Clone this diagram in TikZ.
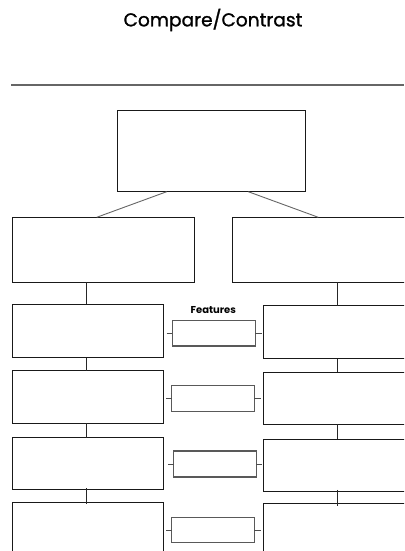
\documentclass[tikz,border=0pt]{standalone}
\usepackage{fontspec}
\setmainfont{Poppins}
\newfontfamily\titlefont[FakeBold=1.2]{Poppins}
\begin{document}
\begin{tikzpicture}[x=1pt,y=-1pt,
  box/.style={draw=black!90,line width=1pt,rectangle,inner sep=0pt,outer sep=0pt,fill=white},
  featbox/.style={draw=black!65,line width=1.2pt,rectangle,inner sep=0pt,outer sep=0pt,fill=white},
  link/.style={draw=black!85,line width=0.9pt},
  diag/.style={draw=black!60,line width=0.9pt},
  stub/.style={draw=black!70,line width=0.9pt}]
\clip (0,0) rectangle (404,551);
\fill[white] (0,0) rectangle (404,551);
% title
\node[inner sep=0pt] (title) at (213,20) {\titlefont\fontsize{18.6}{21}\selectfont Compare/Contrast};
\coordinate (ruleL) at (11,85);
\coordinate (ruleR) at (404,85);
\draw[draw=black!60,line width=1.1pt] (ruleL) -- (ruleR);
% top box
\node[box,minimum width=188.4pt,minimum height=81.4pt] (top) at (211.5,151) {};
% second row
\node[box,minimum width=182pt,minimum height=65pt] (L0) at (103.3,249.8) {};
\node[box,minimum width=190pt,minimum height=65pt] (R0) at (327.3,249.8) {};
\draw[diag] ([xshift=-44.8pt]top.south) -- ([xshift=-114.8pt]top.south |- L0.north);
\draw[diag] ([xshift=36.8pt]top.south) -- ([xshift=106.8pt]top.south |- R0.north);
% left column
\node[box,minimum width=151.4pt,minimum height=53.4pt] (L1) at (88,331) {};
\node[box,minimum width=151.4pt,minimum height=52.6pt] (L2) at (88,397) {};
\node[box,minimum width=151.4pt,minimum height=52.3pt] (L3) at (88,463.8) {};
\node[box,minimum width=151.4pt,minimum height=70pt] (L4) at (88,537.3) {};
% right column
\node[box,minimum width=160pt,minimum height=53pt] (R1) at (343.3,332.2) {};
\node[box,minimum width=160pt,minimum height=52pt] (R2) at (343.3,398.3) {};
\node[box,minimum width=160pt,minimum height=52.3pt] (R3) at (343.3,465.2) {};
\node[box,minimum width=160pt,minimum height=70pt] (R4) at (343.3,538.7) {};
% features boxes
\node[featbox,minimum width=83pt,minimum height=25.7pt] (F1) at (213.8,333.2) {};
\node[featbox,minimum width=82.6pt,minimum height=26pt] (F2) at (213,398.3) {};
\node[featbox,minimum width=82.6pt,minimum height=26pt] (F3) at (215,464) {};
\node[featbox,minimum width=82.6pt,minimum height=25pt] (F4) at (213,530.2) {};
\node[inner sep=0pt] (feat) at (213.3,310.5) {\fontsize{10}{12}\selectfont\bfseries Features};
% vertical connectors
\coordinate (cl) at (86.7,0);
\coordinate (cr) at (337.3,0);
\draw[link] (cl |- L0.south) -- (cl |- L1.north);
\draw[link] (cl |- L1.south) -- (cl |- L2.north);
\draw[link] (cl |- L2.south) -- (cl |- L3.north);
\draw[link] ([yshift=1.5pt]cl |- L3.south) -- ([yshift=-2pt]cl |- L4.north);
\draw[link] (cr |- R0.south) -- (cr |- R1.north);
\draw[link] (cr |- R1.south) -- (cr |- R2.north);
\draw[link] (cr |- R2.south) -- (cr |- R3.north);
\draw[link] ([yshift=1.5pt]cr |- R3.south) -- ([yshift=-2pt]cr |- R4.north);
% stubs
\draw[stub] ([xshift=-5.6pt]F1.west) -- (F1.west);
\draw[stub] (F1.east) -- ([xshift=6.5pt]F1.east);
\draw[stub] ([xshift=-5.6pt]F2.west) -- (F2.west);
\draw[stub] (F2.east) -- ([xshift=6.5pt]F2.east);
\draw[stub] ([xshift=-5.6pt]F3.west) -- (F3.west);
\draw[stub] (F3.east) -- ([xshift=5.5pt]F3.east);
\draw[stub] ([xshift=-5.6pt]F4.west) -- (F4.west);
\draw[stub] (F4.east) -- ([xshift=6.5pt]F4.east);
\end{tikzpicture}
\end{document}
